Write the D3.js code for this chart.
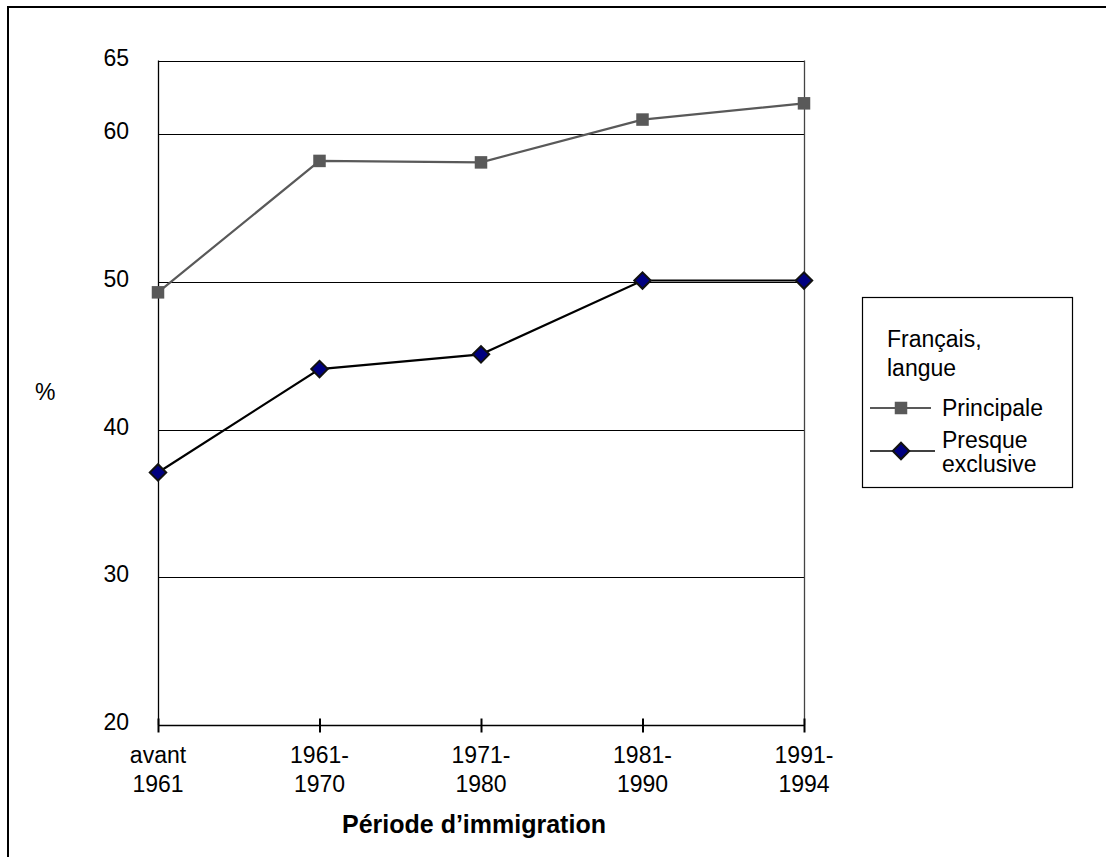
<!DOCTYPE html>
<html>
<head>
<meta charset="utf-8">
<script src="https://cdn.jsdelivr.net/npm/d3@7"></script>
<style>
  html, body { margin: 0; padding: 0; background: #fff; }
  svg { display: block; font-family: "Liberation Sans", Arial, sans-serif; }
</style>
</head>
<body>
<svg id="chart" width="1106" height="857"></svg>
<script>
const categories = [["avant", "1961"], ["1961-", "1970"], ["1971-", "1980"], ["1981-", "1990"], ["1991-", "1994"]];
const principale = [49.3, 58.2, 58.1, 61.0, 62.1];
const presqueExclusive = [37.1, 44.1, 45.1, 50.1, 50.1];
const yTicks = [20, 30, 40, 50, 60, 65];
const legendTitle = ["Français,", "langue"];
const seriesNames = [["Principale"], ["Presque", "exclusive"]];
const xTitle = "Période d’immigration";
const yTitle = "%";

const svg = d3.select("#chart");

// outer frame (extends beyond the visible area to the right and bottom)
svg.append("rect").attr("x", 8).attr("y", 7).attr("width", 1200).attr("height", 1000)
  .attr("fill", "none").attr("stroke", "#000").attr("stroke-width", 2);

const x = d3.scalePoint().domain(d3.range(categories.length)).range([158, 804]).padding(0);
const y = d3.scaleLinear().domain([20, 65]).range([725, 60.5]);

// gridlines
svg.append("g").selectAll("line").data(yTicks.filter(t => t !== 20)).join("line")
  .attr("x1", 158).attr("x2", 804)
  .attr("y1", d => Math.round(y(d)) + 0.5).attr("y2", d => Math.round(y(d)) + 0.5)
  .attr("stroke", "#000").attr("stroke-width", 1.2);

// right plot border
svg.append("line").attr("x1", 804.5).attr("x2", 804.5).attr("y1", y(65)).attr("y2", y(20))
  .attr("stroke", "#444").attr("stroke-width", 1.3);

// y axis line
svg.append("line").attr("x1", 158.5).attr("x2", 158.5).attr("y1", y(65)).attr("y2", y(20))
  .attr("stroke", "#000").attr("stroke-width", 1.3);

// y tick labels
svg.append("g").selectAll("text").data(yTicks).join("text")
  .attr("x", 129).attr("y", d => y(d) + 5)
  .attr("text-anchor", "end").attr("font-size", 23).attr("fill", "#000")
  .text(d => d);

// x axis
const xAxis = d3.axisBottom(x).tickSize(0).tickFormat("");
const gx = svg.append("g").attr("transform", `translate(0,${Math.round(y(20)) + 0.5})`).call(xAxis);
gx.select(".domain").attr("stroke", "#000").attr("stroke-width", 1.5).attr("d", `M${x(0)},0H${x(categories.length - 1)}`);
gx.selectAll(".tick").append("line").attr("y1", -7).attr("y2", 7).attr("stroke", "#000").attr("stroke-width", 2);

// x tick labels
const xl = svg.append("g").selectAll("text").data(categories).join("text")
  .attr("text-anchor", "middle").attr("font-size", 23).attr("fill", "#000");
xl.selectAll("tspan").data((d, i) => d.map(s => ({ s, i }))).join("tspan")
  .attr("x", d => x(d.i)).attr("y", (d, j) => 763 + j * 28.5)
  .text(d => d.s);

// axis titles
svg.append("text").attr("x", 342).attr("y", 833).attr("font-size", 25).attr("font-weight", "bold")
  .attr("fill", "#000").text(xTitle);
svg.append("text").attr("x", 35).attr("y", 400).attr("font-size", 23).attr("fill", "#000").text(yTitle);

// lines
const line = d3.line().x((d, i) => x(i)).y(d => y(d));
svg.append("path").datum(principale).attr("d", line).attr("fill", "none")
  .attr("stroke", "#595959").attr("stroke-width", 2.2);
svg.append("path").datum(presqueExclusive).attr("d", line).attr("fill", "none")
  .attr("stroke", "#000").attr("stroke-width", 2.2);

// markers
const sq = 12.5;
svg.append("g").selectAll("rect").data(principale).join("rect")
  .attr("x", (d, i) => x(i) - sq / 2).attr("y", d => y(d) - sq / 2)
  .attr("width", sq).attr("height", sq).attr("fill", "#595959");
const diamond = d3.symbol().type(d3.symbolSquare).size(135);
svg.append("g").selectAll("path").data(presqueExclusive).join("path")
  .attr("d", diamond)
  .attr("transform", (d, i) => `translate(${x(i)},${y(d)}) rotate(45)`)
  .attr("fill", "#000080").attr("stroke", "#111").attr("stroke-width", 2);

// legend
const lg = svg.append("g");
lg.append("rect").attr("x", 862.5).attr("y", 297.5).attr("width", 210).attr("height", 190)
  .attr("fill", "#fff").attr("stroke", "#000").attr("stroke-width", 1.2);
lg.append("text").attr("font-size", 23).attr("fill", "#000")
  .selectAll("tspan").data(legendTitle).join("tspan")
  .attr("x", 887).attr("y", (d, i) => 347 + i * 28.5).text(d => d);

// legend entry 1
lg.append("line").attr("x1", 870).attr("x2", 931).attr("y1", 408).attr("y2", 408)
  .attr("stroke", "#595959").attr("stroke-width", 2.2);
lg.append("rect").attr("x", 901 - sq / 2).attr("y", 408 - sq / 2).attr("width", sq).attr("height", sq)
  .attr("fill", "#595959");
lg.append("text").attr("x", 942).attr("y", 415.5).attr("font-size", 23).attr("fill", "#000")
  .text(seriesNames[0][0]);

// legend entry 2
lg.append("line").attr("x1", 870).attr("x2", 935).attr("y1", 451).attr("y2", 451)
  .attr("stroke", "#000").attr("stroke-width", 1.5);
lg.append("path").attr("d", diamond).attr("transform", "translate(901,451) rotate(45)")
  .attr("fill", "#000080").attr("stroke", "#111").attr("stroke-width", 2);
lg.append("text").attr("font-size", 23).attr("fill", "#000")
  .selectAll("tspan").data(seriesNames[1]).join("tspan")
  .attr("x", 942).attr("y", (d, i) => 447.5 + i * 24).text(d => d);
</script>
</body>
</html>
